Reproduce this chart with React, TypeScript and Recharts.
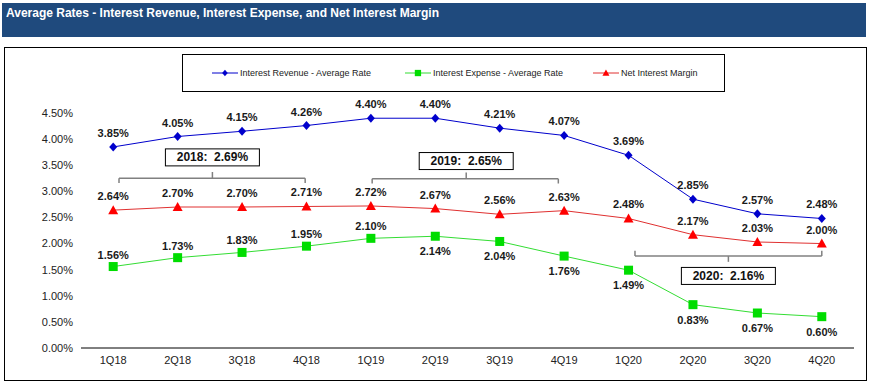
import React from 'react';
import {
  LineChart,
  Line,
  XAxis,
  YAxis,
  LabelList,
  Legend,
  ReferenceLine,
  ReferenceDot,
} from 'recharts';

const quarters = ['1Q18', '2Q18', '3Q18', '4Q18', '1Q19', '2Q19', '3Q19', '4Q19', '1Q20', '2Q20', '3Q20', '4Q20'];
const revenueRate = [3.85, 4.05, 4.15, 4.26, 4.4, 4.4, 4.21, 4.07, 3.69, 2.85, 2.57, 2.48];
const expenseRate = [1.56, 1.73, 1.83, 1.95, 2.1, 2.14, 2.04, 1.76, 1.49, 0.83, 0.67, 0.6];
const netInterestMargin = [2.64, 2.7, 2.7, 2.71, 2.72, 2.67, 2.56, 2.63, 2.48, 2.17, 2.03, 2.0];
const yTicks = [0, 0.5, 1, 1.5, 2, 2.5, 3, 3.5, 4, 4.5];

// Annual averages of net interest margin, shown as bracket annotations
const annualLabels = ['2018:  2.69%', '2019:  2.65%', '2020:  2.16%'];

const data = quarters.map((q, i) => ({
  idx: i,
  q,
  revenue: revenueRate[i],
  expense: expenseRate[i],
  nim: netInterestMargin[i],
}));

const FONT = 'Arial, "Liberation Sans", sans-serif';
const BLUE = '#0000CC';
const GREEN_LINE = '#33DD33';
const GREEN = '#00DD00';
const RED_LINE = '#E03030';
const RED = '#FF0000';
const GRAY = '#808080';

const fmt = (v: number) => `${v.toFixed(2)}%`;

const Diamond = (p: any) => {
  const { cx, cy } = p;
  if (cx == null || cy == null) return null;
  return <path d={`M${cx},${cy - 4.5}L${cx + 4},${cy}L${cx},${cy + 4.5}L${cx - 4},${cy}Z`} fill={BLUE} />;
};
const Square = (p: any) => {
  const { cx, cy } = p;
  if (cx == null || cy == null) return null;
  return <rect x={cx - 4.5} y={cy - 4.5} width={9} height={9} fill={GREEN} />;
};
const Triangle = (p: any) => {
  const { cx, cy } = p;
  if (cx == null || cy == null) return null;
  return <path d={`M${cx},${cy - 5}L${cx + 5},${cy + 4}L${cx - 5},${cy + 4}Z`} fill={RED} />;
};

const makeLabel = (below: (i: number) => boolean, aboveGap: number) => (p: any) => {
  const { x, y, value, index } = p;
  if (x == null || y == null || value == null) return null;
  const isBelow = below(index);
  return (
    <text
      x={x}
      y={isBelow ? y + 19 : y - aboveGap}
      textAnchor="middle"
      fontFamily={FONT}
      fontSize={11}
      fontWeight="bold"
      fill="#1a1a1a"
    >
      {fmt(Number(value))}
    </text>
  );
};

const BoxLabel = (text: string) => (p: any) => {
  const { cx, cy } = p;
  if (cx == null || cy == null) return null;
  return (
    <g>
      <rect x={cx - 47} y={cy - 8.5} width={94} height={17} fill="#fff" stroke="#000" strokeWidth={1} />
      <text x={cx} y={cy + 4} textAnchor="middle" fontFamily={FONT} fontSize={12} fontWeight="bold" fill="#111" style={{ whiteSpace: 'pre' }}>
        {text}
      </text>
    </g>
  );
};

const LegendContent = () => {
  const items = [
    { name: 'Interest Revenue - Average Rate', color: BLUE, Shape: Diamond, left: 29 },
    { name: 'Interest Expense - Average Rate', color: GREEN_LINE, Shape: Square, left: 222 },
    { name: 'Net Interest Margin', color: RED_LINE, Shape: Triangle, left: 410 },
  ];
  return (
    <div
      style={{
        position: 'relative',
        width: 541,
        height: 36,
        border: '1px solid #000',
        background: '#fff',
        fontFamily: FONT,
        fontSize: 9,
        color: '#222',
      }}
    >
      {items.map((it) => (
        <div key={it.name} style={{ position: 'absolute', left: it.left, top: 12, display: 'flex', alignItems: 'center', whiteSpace: 'nowrap' }}>
          <svg width={26} height={12} style={{ marginRight: 2 }}>
            <line x1={0} y1={6} x2={26} y2={6} stroke={it.color} strokeWidth={1} />
            <g transform="scale(0.7) translate(5.5,2.6)">{it.Shape({ cx: 13, cy: 6 })}</g>
          </svg>
          <span>{it.name}</span>
        </div>
      ))}
    </div>
  );
};

const brackets = [
  { from: 0.09, to: 2.98, y: 3.25, end: 3.16, mid: 1.54, tip: 3.37, boxY: 3.65, label: annualLabels[0] },
  { from: 4.02, to: 6.91, y: 3.24, end: 3.15, mid: 5.48, tip: 3.36, boxY: 3.58, label: annualLabels[1] },
  { from: 8.1, to: 11.0, y: 1.76, end: 1.86, mid: 9.55, tip: 1.65, boxY: 1.38, label: annualLabels[2] },
];

export default function App() {
  return (
    <div style={{ position: 'absolute', left: 0, top: 0, width: 871, height: 384, background: '#fff', overflow: 'hidden' }}>
      <div
        style={{
          position: 'absolute',
          left: 2,
          top: 3,
          width: 864,
          height: 34,
          background: '#1F4A7D',
        }}
      >
        <div
          style={{
            position: 'absolute',
            left: 4,
            top: 3,
            color: '#fff',
            fontFamily: FONT,
            fontWeight: 'bold',
            fontSize: 12,
            whiteSpace: 'nowrap',
          }}
        >
          Average Rates - Interest Revenue, Interest Expense, and Net Interest Margin
        </div>
      </div>
      <div
        style={{
          position: 'absolute',
          left: 4,
          top: 47,
          width: 861,
          height: 332,
          border: '1px solid #000',
        }}
      />
      <div style={{ position: 'absolute', left: 0, top: 0 }}>
        <LineChart width={871} height={384} data={data} margin={{ top: 113, right: 17, bottom: 16, left: 6 }}>
          <XAxis
            type="number"
            dataKey="idx"
            domain={[-0.5, 11.5]}
            ticks={quarters.map((_, i) => i)}
            tickFormatter={(i: number) => quarters[i] ?? ''}
            interval={0}
            height={20}
            axisLine={{ stroke: '#000', strokeWidth: 1 }}
            tickLine={false}
            tick={{ fontFamily: FONT, fontSize: 11, fill: '#222' }}
          />
          <YAxis
            domain={[0, 4.5]}
            ticks={yTicks}
            tickFormatter={fmt}
            width={75}
            axisLine={false}
            tickLine={false}
            tick={{ fontFamily: FONT, fontSize: 11, fill: '#222' }}
          />
          <Legend
            layout="horizontal"
            verticalAlign="middle"
            align="center"
            content={<LegendContent />}
            wrapperStyle={{ position: 'absolute', left: 182, top: 54, width: 543, height: 38 }}
          />
          {brackets.map((b, k) => (
            <ReferenceLine key={`h${k}`} segment={[{ x: b.from, y: b.y }, { x: b.to, y: b.y }]} stroke={GRAY} strokeWidth={1.5} ifOverflow="visible" />
          ))}
          {brackets.map((b, k) => (
            <ReferenceLine key={`l${k}`} segment={[{ x: b.from, y: b.y }, { x: b.from, y: b.end }]} stroke={GRAY} strokeWidth={1.5} ifOverflow="visible" />
          ))}
          {brackets.map((b, k) => (
            <ReferenceLine key={`r${k}`} segment={[{ x: b.to, y: b.y }, { x: b.to, y: b.end }]} stroke={GRAY} strokeWidth={1.5} ifOverflow="visible" />
          ))}
          {brackets.map((b, k) => (
            <ReferenceLine key={`m${k}`} segment={[{ x: b.mid, y: b.y }, { x: b.mid, y: b.tip }]} stroke={GRAY} strokeWidth={1.5} ifOverflow="visible" />
          ))}
          {brackets.map((b, k) => (
            <ReferenceDot key={`b${k}`} x={b.mid} y={b.boxY} r={1} ifOverflow="visible" shape={BoxLabel(b.label)} />
          ))}
          <Line
            type="linear"
            dataKey="revenue"
            name="Interest Revenue - Average Rate"
            stroke={BLUE}
            strokeWidth={1}
            dot={<Diamond />}
            activeDot={false}
            isAnimationActive={false}
          >
            <LabelList dataKey="revenue" content={makeLabel(() => false, 10)} />
          </Line>
          <Line
            type="linear"
            dataKey="expense"
            name="Interest Expense - Average Rate"
            stroke={GREEN_LINE}
            strokeWidth={1}
            dot={<Square />}
            activeDot={false}
            isAnimationActive={false}
          >
            <LabelList dataKey="expense" content={makeLabel((i) => i >= 5, 8)} />
          </Line>
          <Line
            type="linear"
            dataKey="nim"
            name="Net Interest Margin"
            stroke={RED_LINE}
            strokeWidth={1}
            dot={<Triangle />}
            activeDot={false}
            isAnimationActive={false}
          >
            <LabelList dataKey="nim" content={makeLabel(() => false, 10)} />
          </Line>
        </LineChart>
      </div>
    </div>
  );
}
